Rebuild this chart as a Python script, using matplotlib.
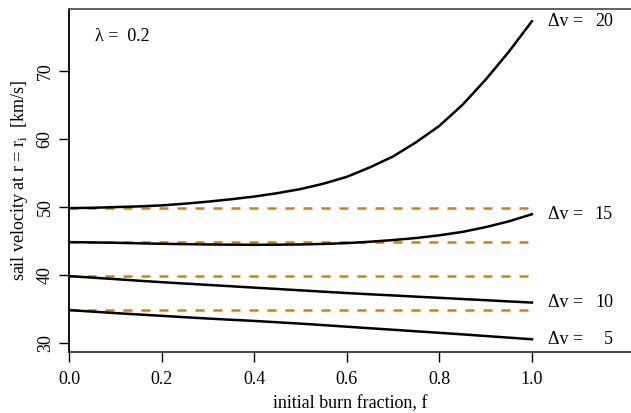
import numpy as np
import matplotlib.pyplot as plt

plt.rcParams['font.family'] = ['Liberation Serif', 'DejaVu Serif']

# initial burn fraction
f = [0.0, 0.05, 0.1, 0.15, 0.2, 0.25, 0.3, 0.35, 0.4, 0.45, 0.5,
     0.55, 0.6, 0.65, 0.7, 0.75, 0.8, 0.85, 0.9, 0.95, 1.0]

# sail velocity at r = r_i for each delta-v
v_dv20 = [49.8, 49.85, 49.95, 50.05, 50.2, 50.45, 50.75, 51.1, 51.5, 52.0, 52.6,
          53.4, 54.4, 55.8, 57.4, 59.5, 61.9, 65.0, 68.7, 72.8, 77.3]
v_dv15 = [44.8, 44.75, 44.7, 44.62, 44.55, 44.5, 44.45, 44.42, 44.4, 44.42, 44.45,
          44.53, 44.65, 44.85, 45.1, 45.4, 45.8, 46.3, 47.0, 47.85, 48.9]
v_dv10 = [39.8, 39.57, 39.35, 39.12, 38.9, 38.7, 38.5, 38.3, 38.1, 37.9, 37.7,
          37.5, 37.3, 37.12, 36.95, 36.77, 36.6, 36.42, 36.25, 36.07, 35.9]
v_dv5 = [34.8, 34.57, 34.35, 34.15, 33.95, 33.75, 33.55, 33.37, 33.2, 33.0, 32.8,
         32.58, 32.35, 32.12, 31.9, 31.67, 31.45, 31.22, 30.98, 30.74, 30.5]

dv_labels = ['20', '15', '10', '5']
curves = [v_dv20, v_dv15, v_dv10, v_dv5]

fs = 13

fig = plt.figure(figsize=(6.31, 4.13), dpi=100)
ax = fig.add_axes([69 / 631, 61.5 / 413, 1 - 69 / 631, (351.5 - 9) / 413])

for v in curves:
    # reference level (velocity at f = 0)
    ax.plot([0, 1], [v[0], v[0]], color='#CD8500', lw=1.8, ls=(0, (3.6, 3.6)))
for v in curves:
    ax.plot(f, v, color='black', lw=1.8, solid_joinstyle='round')

for lab, v in zip(dv_labels, curves):
    ax.text(1.035, v[-1], '\u0394v =', fontsize=fs, va='center', ha='left')
    ax.text(1.175, v[-1], lab, fontsize=fs, va='center', ha='right')

ax.text(0.056, 75.0, '\u03bb =  0.2', fontsize=fs, va='center', ha='left')

ax.set_xlim(0, 1.214)
ax.set_ylim(28.7, 79.1)
ax.set_xticks([0, 0.2, 0.4, 0.6, 0.8, 1.0])
ax.set_xticklabels(['0.0', '0.2', '0.4', '0.6', '0.8', '1.0'])
ax.set_yticks([30, 40, 50, 60, 70])
ax.set_yticklabels(['30', '40', '50', '60', '70'], rotation=90, va='center')
ax.tick_params(labelsize=fs, length=7, width=1, pad=4)
ax.tick_params(axis='x', pad=7)

ax.spines['right'].set_visible(False)
for s in ['left', 'bottom', 'top']:
    ax.spines[s].set_linewidth(1.3)
ax.spines['top'].set_color('#555555')
ax.spines['bottom'].set_color('#333333')

ax.set_xlabel('initial burn fraction, f', fontsize=fs, labelpad=5)
ax.set_ylabel('sail velocity at r = r$_\\mathregular{i}$  [km/s]', fontsize=fs, labelpad=5)

fig.savefig('out.png', dpi=100)
